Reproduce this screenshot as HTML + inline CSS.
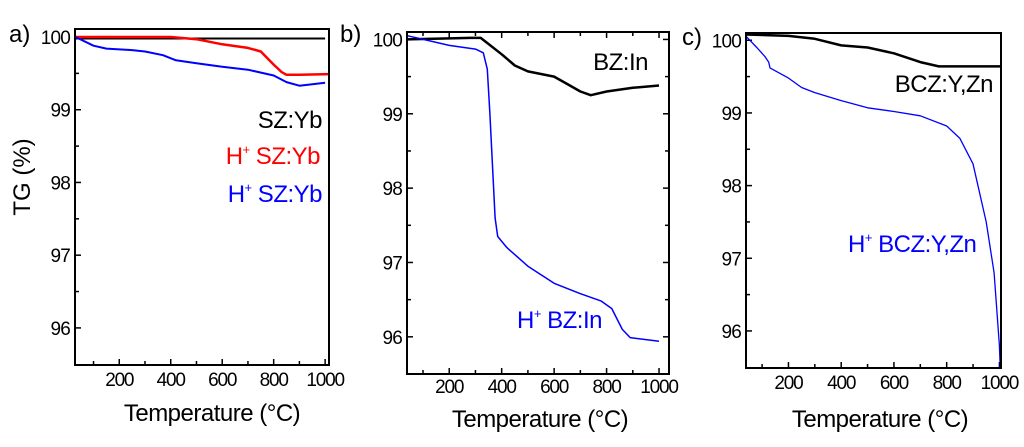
<!DOCTYPE html>
<html><head><meta charset="utf-8"><style>
html,body{margin:0;padding:0;background:#fff}
svg{display:block;font-family:"Liberation Sans",Arial,sans-serif}
</style></head><body>
<svg id="fig" width="1024" height="447" viewBox="0 0 1024 447"></svg>
<script>
// Panel a data
const aBlackX=[28,200,400,600,800,1000];
const aBlackY=[99.98,99.98,99.98,99.98,99.98,99.98];
const aRedX=[30,400,500,600,700,750,800,830,850,900,1015];
const aRedY=[100,100,99.97,99.9,99.85,99.8,99.62,99.52,99.48,99.48,99.49];
const aBlueX=[30,100,150,250,300,370,420,500,600,700,800,850,900,950,1000];
const aBlueY=[100,99.88,99.84,99.82,99.8,99.75,99.68,99.64,99.59,99.55,99.47,99.38,99.33,99.35,99.37];
// Panel b data
const bBlackX=[40,280,320,400,450,500,600,650,700,740,800,900,1000];
const bBlackY=[100,100.02,100.02,99.8,99.65,99.57,99.5,99.4,99.3,99.25,99.3,99.35,99.38];
const bBlueX=[40,200,300,330,345,355,365,375,385,420,500,600,700,780,820,860,890,1000];
const bBlueY=[100.05,99.92,99.87,99.82,99.6,99.0,98.3,97.6,97.35,97.2,96.95,96.72,96.58,96.48,96.38,96.1,95.99,95.94];
// Panel c data
const cBlackX=[40,200,300,400,500,600,700,770,1005];
const cBlackY=[100.08,100.06,100.02,99.93,99.9,99.82,99.7,99.64,99.64];
const cBlueX=[40,80,110,125,130,200,250,300,400,500,600,700,800,850,900,950,980,1000,1003];
const cBlueY=[100.05,99.9,99.78,99.7,99.62,99.48,99.35,99.28,99.17,99.07,99.02,98.96,98.82,98.65,98.3,97.5,96.8,95.8,95.5];
const xTicks=[200,400,600,800,1000];
const xTickLabels=["200","400","600","800","1000"];
const yTicks=[96,97,98,99,100];
const yTickLabels=["96","97","98","99","100"];

const NS="http://www.w3.org/2000/svg";
const svg=document.getElementById('fig');
function mk(tag,attrs,parent){const e=document.createElementNS(NS,tag);for(const k in attrs)e.setAttribute(k,attrs[k]);(parent||svg).appendChild(e);return e;}

function panel(p){
  const g=mk('g',{});
  
  
  const sx=v=>p.x0+(v-p.xmin)/(p.xmax-p.xmin)*(p.x1-p.x0);
  const sy=v=>p.y1-(v-p.ymin)/(p.ymax-p.ymin)*(p.y1-p.y0);
  for(let v=100;v<=1000;v+=100){
    const major=v%200===0, L=major?6:4, X=sx(v);
    const t=mk('line',{x1:X,x2:X,y1:p.y1,y2:p.y1-L,stroke:'#000','stroke-width':1.5},g);
    
    
    if(p.mirror){mk('line',{x1:X,x2:X,y1:p.y0,y2:p.y0+L,stroke:'#000','stroke-width':1.5},g);}
  }
  for(let v=96;v<=100;v+=0.5){
    const major=Math.abs(v-Math.round(v))<1e-6, L=major?6:4, Y=sy(v);
    const t=mk('line',{x1:p.x0,x2:p.x0+L,y1:Y,y2:Y,stroke:'#000','stroke-width':1.5},g);
    
    
    if(p.mirror){mk('line',{x1:p.x1,x2:p.x1-L,y1:Y,y2:Y,stroke:'#000','stroke-width':1.5},g);}
  }
  xTicks.forEach((v,i)=>{
    const t=mk('text',{x:sx(v),y:p.y1+p.xlOff,'text-anchor':'middle','font-size':19,'letter-spacing':-1.2,fill:'#000'},g);
    t.textContent=xTickLabels[i];
    
    
  });
  yTicks.forEach((v,i)=>{
    const t=mk('text',{x:p.x0-5,y:sy(v)+7,'text-anchor':'end','font-size':19,'letter-spacing':-0.8,fill:'#000'},g);
    t.textContent=yTickLabels[i];
    
    
  });
  p.series.forEach(s=>{
    const d=s.xs.map((x,i)=>(i?'L':'M')+sx(x).toFixed(1)+' '+sy(s.ys[i]).toFixed(1)).join(' ');
    const pa=mk('path',{d:d,fill:'none',stroke:s.color,'stroke-width':s.w,'stroke-linejoin':'round'},g);
    
    
  });
  const fr=mk('rect',{x:p.x0,y:p.y0,width:p.x1-p.x0,height:p.y1-p.y0,fill:'none',stroke:'#000','stroke-width':2},g);
  
  
  const xt=mk('text',{x:p.xtX,y:p.xtY,'text-anchor':'middle','font-size':24,'letter-spacing':-0.5,fill:'#000'},g);
  xt.textContent='Temperature (°C)';
  
  
  const pl=mk('text',{x:p.lx,y:p.ly,'font-size':24,fill:'#000'},g);
  pl.textContent=p.label;
  
  
  return {g,sx,sy};
}

panel({name:'panel-a',label:'a)',lx:9,ly:42,xtX:212,xtY:421,xlOff:21,x0:75,x1:329,y0:29,y1:365,xmin:28,xmax:1015,ymin:95.49,ymax:100.11,
  series:[{name:'sz-yb-line',xs:aBlackX,ys:aBlackY,color:'#000',w:2},
          {name:'h-sz-yb-red-line',xs:aRedX,ys:aRedY,color:'#f00',w:2.5},
          {name:'h-sz-yb-blue-line',xs:aBlueX,ys:aBlueY,color:'#00f',w:2}]});
panel({name:'panel-b',label:'b)',lx:340,ly:42,xtX:540,xtY:427,xlOff:19,x0:407,x1:669,y0:32,y1:374,xmin:39,xmax:1038,ymin:95.5,ymax:100.1,mirror:true,
  series:[{name:'bz-in-line',xs:bBlackX,ys:bBlackY,color:'#000',w:2.5},
          {name:'h-bz-in-line',xs:bBlueX,ys:bBlueY,color:'#00f',w:1.5}]});
panel({name:'panel-c',label:'c)',lx:682,ly:45,xtX:880,xtY:427,xlOff:21,x0:746,x1:1001,y0:33,y1:368,xmin:39,xmax:1006,ymin:95.49,ymax:100.1,
  series:[{name:'bcz-y-zn-line',xs:cBlackX,ys:cBlackY,color:'#000',w:2.5},
          {name:'h-bcz-y-zn-line',xs:cBlueX,ys:cBlueY,color:'#00f',w:1.3}]});

function label(txt,x,y,anchor,color,name,sup){
  const t=mk('text',{x:x,y:y,'text-anchor':anchor,'font-size':24,'letter-spacing':-0.5,fill:color});
  if(sup){
    const a=mk('tspan',{},t);a.textContent='H';
    const b=mk('tspan',{dy:-10,'font-size':13},t);b.textContent='+';
    const c=mk('tspan',{dy:10},t);c.textContent=' '+txt;
  } else t.textContent=txt;
  
  
}
label('SZ:Yb',322,128,'end','#000','legend-sz-yb');
label('SZ:Yb',320,164,'end','#f00','legend-h-sz-yb-red',true);
label('SZ:Yb',322,202,'end','#00f','legend-h-sz-yb-blue',true);
label('BZ:In',648,70,'end','#000','label-bz-in');
label('BZ:In',517,328,'start','#00f','label-h-bz-in',true);
label('BCZ:Y,Zn',993,92,'end','#000','label-bcz-y-zn');
label('BCZ:Y,Zn',848,252,'start','#00f','label-h-bcz-y-zn',true);

const yt=mk('text',{x:0,y:0,'text-anchor':'middle','font-size':24,fill:'#000',transform:'translate(30,177) rotate(-90)'});
yt.textContent='TG (%)';


</script>
</body></html>
